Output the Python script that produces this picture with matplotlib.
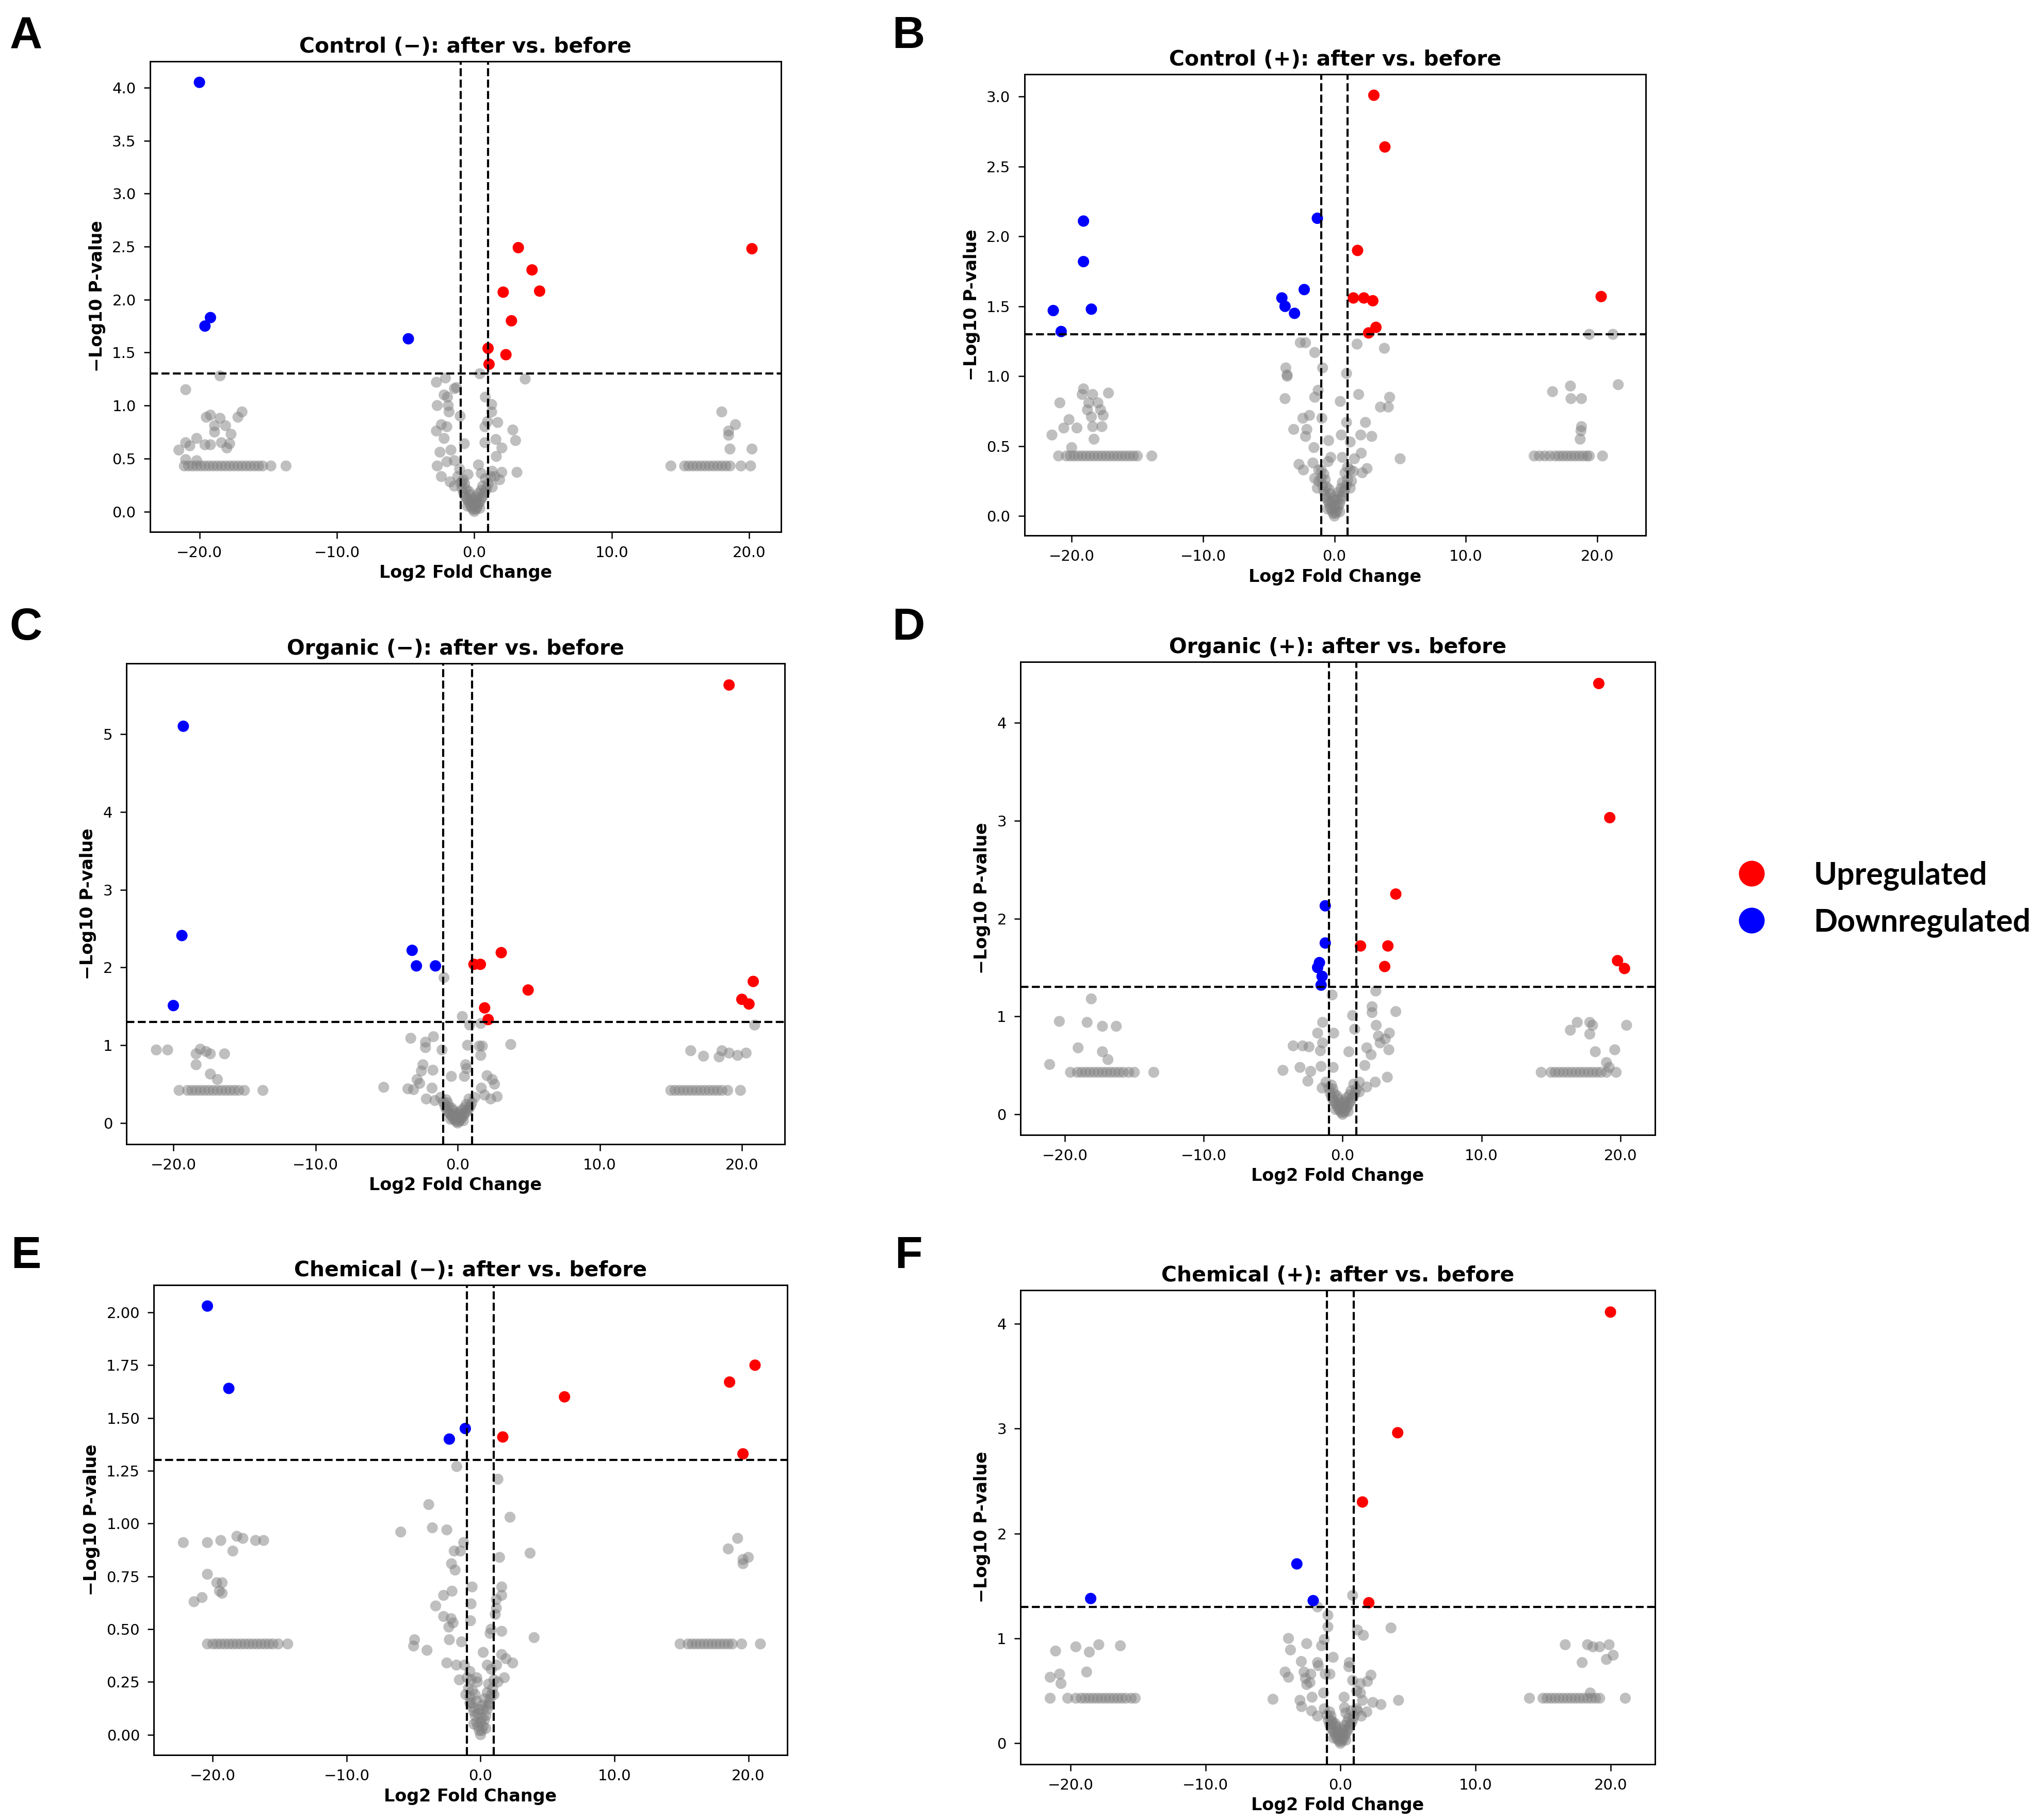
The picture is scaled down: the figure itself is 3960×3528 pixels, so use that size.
import numpy as np
import matplotlib
matplotlib.use("Agg")
import matplotlib.pyplot as plt
from matplotlib.ticker import FuncFormatter
from matplotlib.lines import Line2D

plt.rcParams['font.family'] = ['DejaVu Sans']

# ---- data ----
titles = ["Control (\u2212): after vs. before", "Control (+): after vs. before",
          "Organic (\u2212): after vs. before", "Organic (+): after vs. before",
          "Chemical (\u2212): after vs. before", "Chemical (+): after vs. before"]
letters = ["A", "B", "C", "D", "E", "F"]

# dense V-shaped core around 0 (looks the same in every panel)
core = [(-1.0, 0.27), (-0.9, 0.22), (-0.8, 0.18), (-0.7, 0.15), (-0.6, 0.13), (-0.5, 0.11),
        (-0.4, 0.09), (-0.3, 0.06), (-0.2, 0.04), (-0.1, 0.02), (0.0, 0.0), (0.1, 0.02),
        (0.2, 0.04), (0.3, 0.07), (0.4, 0.09), (0.5, 0.12), (0.6, 0.14), (0.7, 0.17),
        (0.8, 0.19), (0.9, 0.22), (1.0, 0.26), (-0.5, 0.05), (-0.2, 0.10), (0.2, 0.12),
        (0.4, 0.03), (-0.3, 0.16), (0.1, 0.08), (-0.6, 0.21), (0.6, 0.24), (-0.8, 0.30),
        (0.8, 0.31), (-0.4, 0.19), (0.3, 0.17), (0.0, 0.06), (-0.1, 0.12), (0.1, 0.14),
        (-1.2, 0.33), (1.2, 0.33), (-0.7, 0.26), (0.5, 0.20)]

# A  Control (-)
a_up = [(3.2, 2.49), (4.2, 2.28), (2.1, 2.07), (4.75, 2.08), (2.7, 1.80), (1.0, 1.54),
        (2.3, 1.48), (1.07, 1.39), (20.2, 2.48)]
a_down = [(-20.0, 4.05), (-19.2, 1.83), (-19.6, 1.75), (-4.8, 1.63)]
a_gray = [(-21.0, 1.15), (-18.5, 1.28), (-19.5, 0.89), (-19.2, 0.91), (-18.9, 0.81), (-18.5, 0.88),
          (-18.1, 0.81), (-17.7, 0.73), (-17.2, 0.89), (-16.9, 0.94), (-18.9, 0.75), (-20.2, 0.69),
          (-21.0, 0.65), (-20.7, 0.62), (-21.5, 0.58), (-19.6, 0.63), (-19.2, 0.63), (-18.4, 0.65),
          (-17.8, 0.64), (-18.0, 0.60), (-21.0, 0.49), (-20.2, 0.48), (-21.1, 0.43),
          (18.0, 0.94), (19.0, 0.82), (18.5, 0.76), (18.5, 0.72), (18.6, 0.59), (20.2, 0.59),
          (-2.76, 1.22), (-2.1, 1.26), (-1.45, 1.16), (-1.3, 1.17), (-2.2, 1.10), (-1.95, 1.08),
          (-2.7, 1.0), (-1.9, 1.0), (-1.84, 0.94), (-1.03, 0.9), (-2.76, 0.76), (-2.4, 0.82),
          (-2.0, 0.80), (-2.2, 0.69), (-0.73, 0.64), (-2.5, 0.56), (-1.7, 0.58), (-1.45, 0.48),
          (-2.0, 0.47), (-2.7, 0.43), (-1.07, 0.40), (-2.4, 0.33), (-1.76, 0.28), (-1.45, 0.24),
          (-0.9, 0.28), (-0.46, 0.35), (0.3, 0.44), (0.5, 0.36), (0.4, 1.30), (0.8, 1.08),
          (1.26, 1.01), (1.26, 0.94), (0.96, 0.85), (1.7, 0.84), (0.77, 0.80), (2.8, 0.77),
          (1.57, 0.68), (0.77, 0.65), (3.0, 0.67), (2.0, 0.60), (1.6, 0.52), (1.3, 0.38),
          (2.0, 0.37), (3.1, 0.37), (3.7, 1.25), (1.5, 0.33), (1.84, 0.30), (1.3, 0.23)]
a_row = [-20.8, -20.5, -20.2, -19.9, -19.6, -19.3, -19.0, -18.7, -18.4, -18.1, -17.8, -17.5,
         -17.2, -16.9, -16.6, -16.3, -16.0, -15.7, -15.4, -14.8, -13.7,
         14.3, 15.3, 15.6, 15.9, 16.2, 16.5, 16.8, 17.1, 17.4, 17.7, 18.0, 18.3, 18.6, 19.4, 20.1]

# B  Control (+)
b_up = [(3.0, 3.01), (3.84, 2.64), (1.76, 1.90), (1.44, 1.56), (2.24, 1.56), (2.92, 1.54),
        (3.16, 1.35), (2.6, 1.31), (20.3, 1.57)]
b_down = [(-19.1, 2.11), (-19.1, 1.82), (-21.4, 1.47), (-18.5, 1.48), (-20.8, 1.32),
          (-1.3, 2.13), (-2.3, 1.62), (-4.0, 1.56), (-3.76, 1.50), (-3.04, 1.45)]
b_gray = [(-20.9, 0.81), (-21.5, 0.58), (-20.6, 0.63), (-20.2, 0.69), (-19.6, 0.63), (-20.0, 0.49),
          (-19.1, 0.91), (-19.2, 0.87), (-18.4, 0.87), (-17.2, 0.88), (-18.7, 0.81), (-18.0, 0.81),
          (-18.8, 0.76), (-17.8, 0.76), (-17.6, 0.72), (-18.5, 0.71), (-18.4, 0.64), (-17.7, 0.64),
          (-18.3, 0.55),
          (16.6, 0.89), (17.96, 0.93), (18.0, 0.84), (18.8, 0.84), (18.8, 0.64), (18.76, 0.61),
          (18.7, 0.55), (19.4, 1.30), (21.2, 1.30), (21.6, 0.94),
          (-2.6, 1.24), (-2.2, 1.24), (-1.5, 1.17), (-0.9, 1.06), (-3.7, 1.06), (-3.6, 1.01),
          (-3.6, 1.00), (-3.76, 0.84), (-1.5, 0.85), (-1.24, 0.90), (-2.4, 0.70), (-1.9, 0.72),
          (-0.96, 0.70), (-3.1, 0.62), (-2.1, 0.62), (-2.2, 0.57), (-0.44, 0.54), (-1.56, 0.49),
          (-2.7, 0.37), (-2.36, 0.33), (-1.64, 0.38), (0.44, 0.82), (0.92, 1.02), (1.72, 1.23),
          (3.8, 1.20), (1.84, 0.87), (3.5, 0.78), (4.1, 0.78), (4.2, 0.85), (0.92, 0.67),
          (2.36, 0.67), (0.52, 0.58), (2.0, 0.58), (2.84, 0.57), (1.2, 0.53), (5.0, 0.41),
          (2.04, 0.45), (1.52, 0.41), (2.48, 0.34), (2.12, 0.31), (1.44, 0.32), (0.6, 0.42),
          (-0.48, 0.39), (-0.28, 0.42), (-1.2, 0.25), (-1.3, 0.20), (-1.0, 0.33), (1.2, 0.20),
          (1.3, 0.25), (-1.5, 0.27), (1.0, 0.35)]
b_row = [-21.0, -20.4, -20.1, -19.8, -19.5, -19.2, -18.9, -18.6, -18.3, -18.0, -17.7, -17.4,
         -17.1, -16.8, -16.5, -16.2, -15.9, -15.6, -15.3, -15.0, -13.9,
         15.2, 15.6, 16.0, 16.4, 16.8, 17.1, 17.4, 17.7, 18.0, 18.3, 18.6, 18.9, 19.2, 19.4, 20.4]

# C  Organic (-)
c_up = [(19.1, 5.63), (1.15, 2.04), (1.6, 2.04), (3.07, 2.19), (4.96, 1.71), (1.9, 1.48),
        (2.15, 1.33), (20.8, 1.82), (20.0, 1.59), (20.5, 1.53)]
c_down = [(-19.3, 5.10), (-19.4, 2.41), (-20.0, 1.51), (-3.2, 2.22), (-2.9, 2.02), (-1.56, 2.02)]
c_gray = [(-21.2, 0.94), (-20.4, 0.94), (-18.1, 0.95), (-17.7, 0.92), (-18.4, 0.89), (-17.4, 0.89),
          (-16.4, 0.89), (-18.4, 0.75), (-17.4, 0.63), (-16.9, 0.56),
          (16.4, 0.93), (17.3, 0.86), (18.4, 0.85), (18.6, 0.93), (19.1, 0.90), (19.7, 0.87),
          (20.3, 0.90), (20.9, 1.26),
          (-0.96, 1.87), (0.33, 1.37), (0.85, 1.26), (1.63, 1.28), (-3.3, 1.09), (-2.26, 1.04),
          (-2.26, 0.97), (-1.7, 1.11), (-1.1, 0.94), (0.7, 1.00), (1.52, 0.99), (1.74, 0.99),
          (1.63, 0.87), (3.74, 1.01), (-2.44, 0.75), (-2.55, 0.67), (-1.74, 0.68), (0.56, 0.75),
          (0.63, 0.70), (-2.85, 0.56), (-2.67, 0.51), (-0.44, 0.60), (0.48, 0.60), (2.07, 0.61),
          (2.44, 0.56), (2.6, 0.50), (-5.2, 0.46), (-3.5, 0.44), (-3.1, 0.43), (-1.8, 0.45),
          (1.67, 0.45), (1.9, 0.36), (2.78, 0.34), (2.33, 0.31), (-2.2, 0.31), (-1.6, 0.29)]
c_row = [-19.6, -19.0, -18.7, -18.4, -18.1, -17.8, -17.5, -17.2, -16.9, -16.6, -16.3, -16.0,
         -15.7, -15.4, -15.0, -13.7,
         15.0, 15.3, 15.6, 15.9, 16.2, 16.5, 16.8, 17.1, 17.4, 17.7, 18.0, 18.3, 18.6, 19.0, 19.9]

# D  Organic (+)
d_up = [(18.45, 4.40), (19.24, 3.03), (3.83, 2.25), (1.29, 1.72), (3.26, 1.72), (3.03, 1.51),
        (19.8, 1.57), (20.3, 1.49)]
d_down = [(-1.25, 2.13), (-1.25, 1.75), (-1.67, 1.55), (-1.8, 1.50), (-1.48, 1.41), (-1.55, 1.32)]
d_gray = [(-21.1, 0.51), (-20.4, 0.95), (-18.1, 1.18), (-18.4, 0.94), (-17.3, 0.90), (-16.3, 0.90),
          (-19.05, 0.68), (-17.3, 0.64), (-16.9, 0.56),
          (16.9, 0.94), (16.4, 0.86), (17.8, 0.94), (18.0, 0.91), (17.8, 0.82), (18.2, 0.64),
          (19.6, 0.66), (20.45, 0.91), (19.0, 0.53), (19.2, 0.48),
          (-0.76, 1.22), (2.39, 1.26), (2.12, 1.10), (2.12, 1.04), (3.83, 1.05), (0.72, 1.01),
          (-1.44, 0.94), (-1.8, 0.83), (-0.64, 0.83), (0.87, 0.87), (2.42, 0.91), (3.37, 0.83),
          (3.07, 0.77), (2.58, 0.80), (2.7, 0.73), (1.74, 0.68), (-3.56, 0.70), (-2.88, 0.70),
          (-2.42, 0.69), (-1.44, 0.73), (-1.6, 0.65), (0.45, 0.64), (2.05, 0.61), (3.33, 0.66),
          (-4.3, 0.45), (-3.07, 0.48), (-2.3, 0.44), (-1.55, 0.49), (-0.68, 0.48), (1.6, 0.50),
          (3.22, 0.38), (-2.5, 0.34), (-1.48, 0.27), (2.35, 0.33), (1.74, 0.28), (1.2, 0.23)]
d_row = [-19.6, -19.1, -18.8, -18.5, -18.2, -17.9, -17.6, -17.3, -17.0, -16.7, -16.4, -16.1,
         -15.8, -15.4, -15.0, -13.6,
         14.3, 15.0, 15.3, 15.6, 15.9, 16.2, 16.5, 16.8, 17.1, 17.4, 17.7, 18.0, 18.3, 18.6, 19.0, 19.7]

# E  Chemical (-)
e_up = [(6.27, 1.60), (1.66, 1.41), (18.6, 1.67), (20.5, 1.75), (19.6, 1.33)]
e_down = [(-20.4, 2.03), (-18.8, 1.64), (-1.14, 1.45), (-2.33, 1.40)]
e_gray = [(-22.2, 0.91), (-20.4, 0.91), (-19.4, 0.92), (-18.2, 0.94), (-17.75, 0.93), (-16.8, 0.92),
          (-16.2, 0.92), (-18.5, 0.87), (-20.4, 0.76), (-19.7, 0.72), (-19.3, 0.72), (-19.5, 0.68),
          (-19.3, 0.67), (-20.8, 0.65), (-21.4, 0.63),
          (19.2, 0.93), (18.5, 0.88), (19.6, 0.83), (20.0, 0.84), (19.6, 0.81),
          (-1.78, 1.27), (1.3, 1.21), (-3.87, 1.09), (2.2, 1.03), (-5.96, 0.96), (-3.6, 0.98),
          (-2.52, 0.97), (-1.26, 0.91), (-1.97, 0.87), (-1.5, 0.87), (1.42, 0.84), (3.7, 0.86),
          (-2.17, 0.81), (-1.9, 0.78), (-0.63, 0.70), (1.58, 0.70), (-2.13, 0.68), (-2.76, 0.66),
          (1.58, 0.66), (1.18, 0.64), (-3.35, 0.61), (-0.71, 0.62), (1.18, 0.60), (1.1, 0.57),
          (-2.76, 0.56), (-2.2, 0.55), (-0.75, 0.54), (-2.37, 0.51), (-2.05, 0.53), (0.79, 0.50),
          (1.58, 0.49), (-4.93, 0.45), (-5.0, 0.42), (-4.0, 0.40), (-2.33, 0.45), (-1.42, 0.44),
          (4.0, 0.46), (0.71, 0.48), (0.2, 0.39), (1.58, 0.38), (1.9, 0.36), (2.4, 0.34),
          (-2.52, 0.34), (-1.8, 0.33), (0.5, 0.33), (-1.58, 0.26), (-0.28, 0.27), (1.78, 0.27),
          (1.3, 0.25), (-0.24, 0.25), (-1.1, 0.19), (1.0, 0.19), (0.63, 0.15), (-0.8, 0.15)]
e_row = [-20.4, -20.0, -19.7, -19.4, -19.1, -18.8, -18.5, -18.2, -17.9, -17.6, -17.3, -17.0,
         -16.7, -16.4, -16.1, -15.8, -15.5, -15.1, -14.4,
         14.9, 15.5, 15.8, 16.1, 16.4, 16.7, 17.0, 17.3, 17.6, 17.9, 18.2, 18.5, 18.8, 19.5, 20.9]

# F  Chemical (+)
f_up = [(20.0, 4.11), (4.24, 2.96), (1.63, 2.30), (2.1, 1.34)]
f_down = [(-18.5, 1.38), (-3.23, 1.71), (-2.02, 1.36)]
f_gray = [(-21.1, 0.88), (-19.6, 0.92), (-18.6, 0.87), (-17.9, 0.94), (-16.3, 0.93), (-21.5, 0.63),
          (-20.8, 0.66), (-20.7, 0.57), (-18.8, 0.68),
          (16.65, 0.94), (18.3, 0.94), (18.7, 0.92), (19.2, 0.92), (19.9, 0.94), (20.2, 0.84),
          (19.7, 0.80), (17.9, 0.77), (18.5, 0.48),
          (0.9, 1.41), (-1.7, 1.30), (-0.93, 1.22), (-0.93, 1.11), (1.25, 1.08), (1.7, 1.03),
          (3.74, 1.10), (-3.85, 1.00), (-2.5, 0.95), (-1.4, 0.93), (-1.2, 0.99), (-3.7, 0.89),
          (-0.54, 0.82), (-1.7, 0.77), (-1.63, 0.74), (-2.9, 0.78), (0.66, 0.77), (0.62, 0.73),
          (-4.1, 0.68), (-3.85, 0.63), (-2.7, 0.68), (-2.2, 0.66), (-1.13, 0.66), (-0.78, 0.66),
          (2.26, 0.65), (-2.6, 0.62), (0.9, 0.60), (2.0, 0.59), (1.48, 0.57), (-2.5, 0.56),
          (-2.26, 0.58), (-1.25, 0.48), (1.2, 0.50), (1.48, 0.48), (-5.0, 0.42), (-3.0, 0.41),
          (0.27, 0.44), (2.4, 0.39), (3.0, 0.37), (4.3, 0.41), (-2.88, 0.35), (-2.1, 0.44),
          (1.63, 0.41), (0.3, 0.34), (0.4, 0.29), (1.95, 0.30), (1.25, 0.31), (-2.14, 0.31),
          (-1.7, 0.26), (-0.7, 0.21), (1.55, 0.26), (-0.54, 0.18)]
f_row = [-21.5, -20.2, -19.6, -19.2, -18.9, -18.6, -18.3, -18.0, -17.7, -17.4, -17.1, -16.8,
         -16.5, -16.2, -15.9, -15.5, -15.2,
         14.0, 15.0, 15.3, 15.6, 15.9, 16.2, 16.5, 16.8, 17.1, 17.4, 17.7, 18.0, 18.3, 18.6,
         18.9, 19.2, 21.1]

row_levels = [0.43, 0.43, 0.42, 0.43, 0.43, 0.43]
ups = [a_up, b_up, c_up, d_up, e_up, f_up]
downs = [a_down, b_down, c_down, d_down, e_down, f_down]
grays = [a_gray, b_gray, c_gray, d_gray, e_gray, f_gray]
rows = [a_row, b_row, c_row, d_row, e_row, f_row]

# ---- layout ----
boxes = [[0.0734, 0.7079, 0.3088, 0.2585], [0.5014, 0.7057, 0.3042, 0.2535],
         [0.0619, 0.3714, 0.3221, 0.2642], [0.4995, 0.3764, 0.3106, 0.2599],
         [0.0753, 0.0356, 0.3100, 0.2584], [0.4995, 0.0306, 0.3106, 0.2606]]
xlims = [(-23.6, 22.3), (-23.6, 23.7), (-23.3, 23.0), (-23.2, 22.5), (-24.4, 22.9), (-23.7, 23.3)]
ylims = [(-0.19, 4.25), (-0.14, 3.16), (-0.27, 5.91), (-0.21, 4.62), (-0.097, 2.13), (-0.20, 4.32)]
yticks = [np.arange(0, 4.01, 0.5), np.arange(0, 3.01, 0.5), np.arange(0, 6, 1),
          np.arange(0, 5, 1), np.arange(0, 2.01, 0.25), np.arange(0, 5, 1)]
yfmts = ["{:.1f}", "{:.1f}", "{:.0f}", "{:.0f}", "{:.2f}", "{:.0f}"]
letter_pos = [(0.0127, 0.980), (0.4446, 0.980), (0.0127, 0.6548),
              (0.4446, 0.6548), (0.0127, 0.3098), (0.4446, 0.3098)]

fig = plt.figure(figsize=(13.2, 11.76), dpi=300)

xfmt = FuncFormatter(lambda v, p: "{:.1f}".format(v).replace("-", "\u2212"))

for i in range(6):
    ax = fig.add_axes(boxes[i])
    g = np.array(grays[i] + core)
    ax.scatter(g[:, 0], g[:, 1], s=26, color="gray", alpha=0.5, edgecolors="none")
    r = np.array(rows[i])
    ax.scatter(r, np.full(len(r), row_levels[i]), s=26, color="gray", alpha=0.5, edgecolors="none")
    u = np.array(ups[i])
    ax.scatter(u[:, 0], u[:, 1], s=28, color="red", edgecolors="none")
    d = np.array(downs[i])
    ax.scatter(d[:, 0], d[:, 1], s=28, color="blue", edgecolors="none")

    ax.axhline(-np.log10(0.05), color="black", ls="--", lw=1.0)
    ax.axvline(-1, color="black", ls="--", lw=1.0)
    ax.axvline(1, color="black", ls="--", lw=1.0)

    ax.set_xlim(xlims[i])
    ax.set_ylim(ylims[i])
    ax.set_xticks([-20, -10, 0, 10, 20])
    ax.xaxis.set_major_formatter(xfmt)
    ax.set_yticks(yticks[i])
    fm = yfmts[i]
    ax.yaxis.set_major_formatter(FuncFormatter(lambda v, p, fm=fm: fm.format(v)))
    ax.tick_params(labelsize=7, width=0.6, length=3)
    for sp in ax.spines.values():
        sp.set_linewidth(0.7)

    ax.set_title(titles[i], fontsize=9.8, fontweight="bold", pad=4)
    ax.set_xlabel("Log2 Fold Change", fontsize=8, fontweight="bold", labelpad=2)
    ax.set_ylabel("\u2212Log10 P-value", fontsize=8, fontweight="bold", labelpad=3)

    fig.text(letter_pos[i][0], letter_pos[i][1], letters[i], fontsize=21, fontweight="bold",
             family=["Liberation Sans", "DejaVu Sans"], ha="center", va="center")

handles = [Line2D([], [], marker="o", ls="", color="red", markersize=11, label="Upregulated"),
           Line2D([], [], marker="o", ls="", color="blue", markersize=11, label="Downregulated")]
fig.legend(handles=handles, loc="center left", bbox_to_anchor=(0.842, 0.506), frameon=False,
           prop={"family": ["Lato", "DejaVu Sans"], "weight": "bold", "size": 14.6},
           borderaxespad=0, borderpad=0, handletextpad=0.98, labelspacing=0.55)

fig.savefig("out.png", dpi=300)
